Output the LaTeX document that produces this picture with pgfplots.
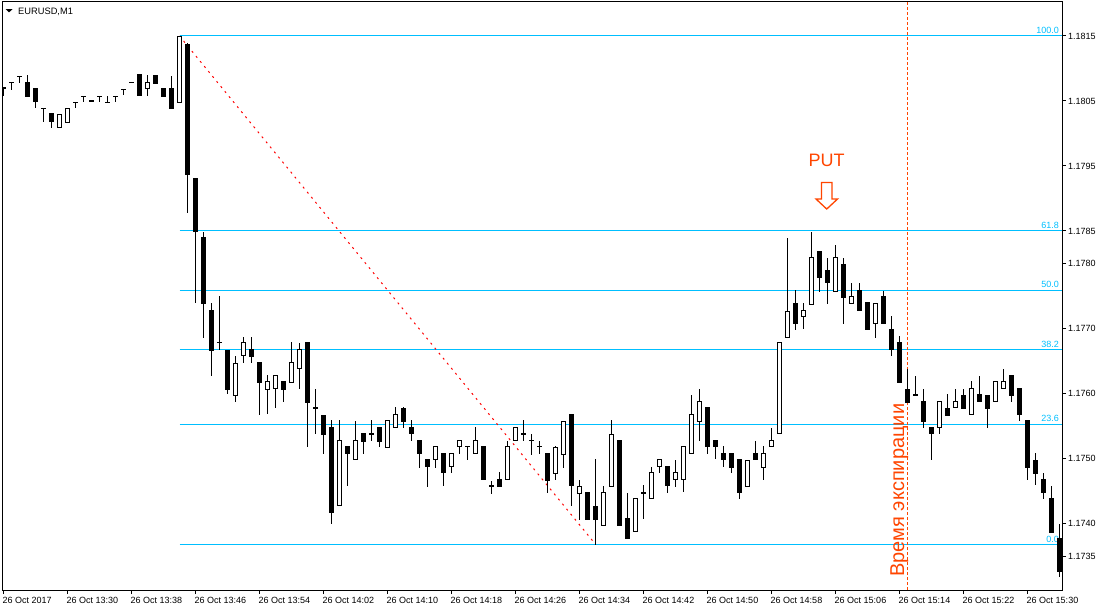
\documentclass[border=0pt]{standalone}
\usepackage{fontspec}
\setmainfont{Liberation Sans}
\usepackage{pgfplots}
\usepackage{pgfplotstable}
\pgfplotsset{compat=1.18}

\definecolor{fib}{RGB}{0,191,255}
\definecolor{expc}{RGB}{255,69,0}

% k = minute index (0 = 13:22), o h l c = open high low close
\pgfplotstableread{
k o h l c
0 1.18070 1.18070 1.18059 1.18070
1 1.18079 1.18079 1.18068 1.18079
2 1.18089 1.18089 1.18079 1.18089
3 1.18080 1.18090 1.18058 1.18058
4 1.18070 1.18070 1.18039 1.18049
5 1.18039 1.18039 1.18018 1.18039
6 1.18030 1.18030 1.18009 1.18018
9 1.18049 1.18049 1.18039 1.18049
10 1.18058 1.18058 1.18049 1.18058
11 1.18050 1.18050 1.18050 1.18050
12 1.18058 1.18058 1.18049 1.18058
13 1.18049 1.18058 1.18049 1.18049
14 1.18058 1.18058 1.18049 1.18058
15 1.18068 1.18068 1.18059 1.18068
16 1.18080 1.18080 1.18080 1.18080
17 1.18090 1.18090 1.18058 1.18058
19 1.18090 1.18090 1.18079 1.18079
20 1.18070 1.18070 1.18058 1.18058
21 1.18070 1.18090 1.18039 1.18039
23 1.18139 1.18140 1.17878 1.17938
24 1.17930 1.17930 1.17739 1.17849
25 1.17840 1.17850 1.17687 1.17738
26 1.17728 1.17740 1.17627 1.17667
27 1.17679 1.17750 1.17667 1.17679
28 1.17668 1.17668 1.17599 1.17607
31 1.17668 1.17688 1.17647 1.17658
32 1.17648 1.17648 1.17568 1.17618
35 1.17619 1.17619 1.17588 1.17607
38 1.17679 1.17679 1.17518 1.17587
39 1.17579 1.17608 1.17539 1.17579
40 1.17568 1.17568 1.17508 1.17539
41 1.17548 1.17559 1.17399 1.17418
43 1.17519 1.17519 1.17458 1.17508
45 1.17539 1.17539 1.17508 1.17527
46 1.17539 1.17559 1.17528 1.17539
47 1.17548 1.17548 1.17518 1.17527
50 1.17579 1.17579 1.17548 1.17558
51 1.17548 1.17559 1.17527 1.17538
52 1.17528 1.17528 1.17487 1.17508
53 1.17499 1.17499 1.17458 1.17487
55 1.17508 1.17508 1.17458 1.17478
58 1.17519 1.17519 1.17498 1.17519
60 1.17519 1.17519 1.17467 1.17467
61 1.17458 1.17467 1.17447 1.17458
62 1.17468 1.17479 1.17458 1.17458
65 1.17539 1.17559 1.17528 1.17539
66 1.17528 1.17539 1.17507 1.17528
67 1.17519 1.17528 1.17507 1.17519
68 1.17508 1.17508 1.17447 1.17467
71 1.17568 1.17568 1.17427 1.17458
73 1.17448 1.17448 1.17407 1.17407
74 1.17428 1.17499 1.17368 1.17407
77 1.17528 1.17528 1.17398 1.17398
78 1.17408 1.17448 1.17378 1.17378
80 1.17448 1.17459 1.17408 1.17448
83 1.17488 1.17488 1.17448 1.17458
88 1.17579 1.17579 1.17508 1.17519
89 1.17528 1.17528 1.17499 1.17519
90 1.17508 1.17519 1.17488 1.17499
91 1.17508 1.17508 1.17478 1.17487
92 1.17499 1.17499 1.17438 1.17448
94 1.17508 1.17528 1.17499 1.17499
99 1.17739 1.17759 1.17698 1.17708
102 1.17819 1.17819 1.17758 1.17779
103 1.17790 1.17810 1.17739 1.17770
105 1.17799 1.17810 1.17708 1.17749
107 1.17759 1.17770 1.17728 1.17728
108 1.17739 1.17739 1.17698 1.17698
110 1.17750 1.17759 1.17708 1.17708
111 1.17699 1.17719 1.17658 1.17668
112 1.17679 1.17688 1.17618 1.17618
113 1.17608 1.17639 1.17587 1.17587
114 1.17599 1.17628 1.17599 1.17599
115 1.17588 1.17608 1.17548 1.17558
116 1.17548 1.17548 1.17498 1.17538
118 1.17579 1.17599 1.17568 1.17568
120 1.17599 1.17608 1.17578 1.17578
122 1.17599 1.17628 1.17588 1.17588
123 1.17599 1.17599 1.17548 1.17578
126 1.17628 1.17628 1.17588 1.17598
127 1.17608 1.17608 1.17558 1.17568
128 1.17559 1.17559 1.17468 1.17487
129 1.17498 1.17508 1.17459 1.17478
130 1.17468 1.17478 1.17438 1.17448
131 1.17439 1.17459 1.17387 1.17387
132 1.17379 1.17399 1.17318 1.17328
}\bear

\pgfplotstableread{
k o h l c
7 1.18009 1.18030 1.18009 1.18030
8 1.18018 1.18039 1.18018 1.18039
18 1.18070 1.18090 1.18058 1.18079
22 1.18049 1.18150 1.18049 1.18150
29 1.17599 1.17659 1.17588 1.17648
30 1.17659 1.17688 1.17647 1.17679
33 1.17607 1.17628 1.17568 1.17619
34 1.17608 1.17628 1.17578 1.17628
36 1.17618 1.17679 1.17618 1.17648
37 1.17639 1.17679 1.17608 1.17668
42 1.17428 1.17559 1.17428 1.17528
44 1.17499 1.17559 1.17499 1.17528
48 1.17518 1.17559 1.17518 1.17559
49 1.17548 1.17579 1.17548 1.17568
54 1.17499 1.17519 1.17487 1.17519
56 1.17488 1.17508 1.17478 1.17508
57 1.17519 1.17528 1.17508 1.17528
59 1.17508 1.17548 1.17508 1.17528
63 1.17467 1.17528 1.17467 1.17519
64 1.17528 1.17548 1.17528 1.17548
69 1.17478 1.17519 1.17467 1.17519
70 1.17508 1.17559 1.17487 1.17559
72 1.17447 1.17468 1.17407 1.17458
75 1.17398 1.17459 1.17398 1.17448
76 1.17458 1.17559 1.17458 1.17539
79 1.17388 1.17439 1.17388 1.17439
81 1.17439 1.17488 1.17439 1.17479
82 1.17488 1.17499 1.17478 1.17499
84 1.17468 1.17499 1.17458 1.17479
85 1.17468 1.17519 1.17448 1.17519
86 1.17508 1.17599 1.17508 1.17568
87 1.17558 1.17608 1.17528 1.17588
93 1.17458 1.17499 1.17458 1.17499
95 1.17487 1.17519 1.17468 1.17508
96 1.17519 1.17548 1.17519 1.17528
97 1.17539 1.17679 1.17539 1.17679
98 1.17687 1.17839 1.17687 1.17728
100 1.17719 1.17739 1.17698 1.17728
101 1.17739 1.17850 1.17739 1.17810
104 1.17758 1.17830 1.17758 1.17810
106 1.17739 1.17770 1.17739 1.17750
109 1.17708 1.17739 1.17687 1.17739
117 1.17548 1.17588 1.17538 1.17588
119 1.17578 1.17608 1.17578 1.17588
121 1.17568 1.17619 1.17568 1.17608
124 1.17588 1.17619 1.17588 1.17619
125 1.17608 1.17639 1.17608 1.17619
}\bull

\pgfplotsset{
  candle/.style n args={2}{draw=none, mark=none, forget plot,
    error bars/.cd, y dir=both, y explicit, error mark=none,
    error bar style={draw=#2, line width=#1, line cap=butt}},
}

\begin{document}
\begin{tikzpicture}
\path[use as bounding box] (-2pt,-21pt) rectangle (1099pt,590pt);
\begin{axis}[
    at={(0pt,0pt)}, anchor=south west,
    scale only axis, width=1060pt, height=588pt,
    xmin=-0.19, xmax=132.31,
    ymin=1.172977, ymax=1.182023,
    axis line style={line width=1pt},
    xtick={0,8,...,128},
    xticklabels={26 Oct 2017,26 Oct 13:30,26 Oct 13:38,26 Oct 13:46,26 Oct 13:54,26 Oct 14:02,26 Oct 14:10,26 Oct 14:18,26 Oct 14:26,26 Oct 14:34,26 Oct 14:42,26 Oct 14:50,26 Oct 14:58,26 Oct 15:06,26 Oct 15:14,26 Oct 15:22,26 Oct 15:30},
    ytick={1.1735,1.1740,1.1750,1.1760,1.1770,1.1780,1.1785,1.1795,1.1805,1.1815},
    yticklabels={1.1735,1.1740,1.1750,1.1760,1.1770,1.1780,1.1785,1.1795,1.1805,1.1815},
    xtick pos=left, ytick pos=right,
    tick align=outside, major tick length=4pt,
    tick style={black, line width=1pt},
    xticklabel style={anchor=north west, inner sep=0pt, font=\fontsize{9}{10}\selectfont, xshift=-1pt, yshift=-3pt},
    yticklabel style={anchor=west, inner sep=0pt, font=\fontsize{9}{10}\selectfont, xshift=2pt},
]
% Fibonacci levels
\addplot[fib, line width=1pt] coordinates {(22,1.18150) (132.31,1.18150)};
\addplot[fib, line width=1pt] coordinates {(22,1.17851) (132.31,1.17851)};
\addplot[fib, line width=1pt] coordinates {(22,1.17759) (132.31,1.17759)};
\addplot[fib, line width=1pt] coordinates {(22,1.17667) (132.31,1.17667)};
\addplot[fib, line width=1pt] coordinates {(22,1.17553) (132.31,1.17553)};
\addplot[fib, line width=1pt] coordinates {(22,1.17368) (132.31,1.17368)};
\begin{scope}[every node/.style={anchor=south east, inner sep=0pt, yshift=2pt, text=fib, font=\fontsize{9}{10}\selectfont}]
\node at (axis cs:131.94,1.18150) {100.0};
\node at (axis cs:131.94,1.17851) {61.8};
\node at (axis cs:131.94,1.17759) {50.0};
\node at (axis cs:131.94,1.17667) {38.2};
\node at (axis cs:131.94,1.17553) {23.6};
\node at (axis cs:131.94,1.17368) {0.0};
\end{scope}
% trend line
\addplot[red, line width=1pt, dash pattern=on 2pt off 4.5pt] coordinates {(22,1.18150) (74,1.17368)};
% expiration
\addplot[expc, line width=1pt, dash pattern=on 3pt off 2pt] coordinates {(113,1.172977) (113,1.182023)};
\node[rotate=90, anchor=base west, inner sep=0pt, text=expc, font=\fontsize{20}{22}\selectfont] at (axis cs:112.56,1.173177) {Время экспирации};
% PUT signal
\node[anchor=base, inner sep=0pt, text=expc, font=\fontsize{18}{20}\selectfont] at (axis cs:102.9,1.179489) {PUT};
\draw[expc, line width=1.3pt, line join=miter] (axis cs:102.25,1.179246) -- (axis cs:103.56,1.179246) -- (axis cs:103.56,1.178992) -- (axis cs:104.25,1.178992) -- (axis cs:102.9,1.178838) -- (axis cs:101.56,1.178992) -- (axis cs:102.25,1.178992) -- cycle;
% wicks
\addplot[candle={1pt}{black}]
    table[x=k, y expr={(\thisrow{h}+\thisrow{l})/2}, y error expr={(\thisrow{h}-\thisrow{l})/2}] {\bear};
\addplot[candle={1pt}{black}]
    table[x=k, y expr={(\thisrow{h}+\thisrow{l})/2}, y error expr={(\thisrow{h}-\thisrow{l})/2}] {\bull};
% bodies
\addplot[candle={5pt}{black}]
    table[x=k, y expr={(\thisrow{o}+\thisrow{c})/2}, y error expr={(\thisrow{o}-\thisrow{c})/2+0.0000077}] {\bear};
\addplot[candle={5pt}{black}]
    table[x=k, y expr={(\thisrow{o}+\thisrow{c})/2}, y error expr={(\thisrow{c}-\thisrow{o})/2+0.0000077}] {\bull};
\addplot[candle={3pt}{white}]
    table[x=k, y expr={(\thisrow{o}+\thisrow{c})/2}, y error expr={max((\thisrow{c}-\thisrow{o})/2-0.0000077,0)}] {\bull};
% title
\fill[black] (axis cs:0.25,1.181915) -- (axis cs:1.125,1.181915) -- (axis cs:0.6875,1.181862) -- cycle;
\node[anchor=base west, inner sep=0pt, font=\fontsize{9.3}{10}\selectfont] at (axis cs:1.81,1.181834) {EURUSD,M1};
\end{axis}
\end{tikzpicture}
\end{document}
